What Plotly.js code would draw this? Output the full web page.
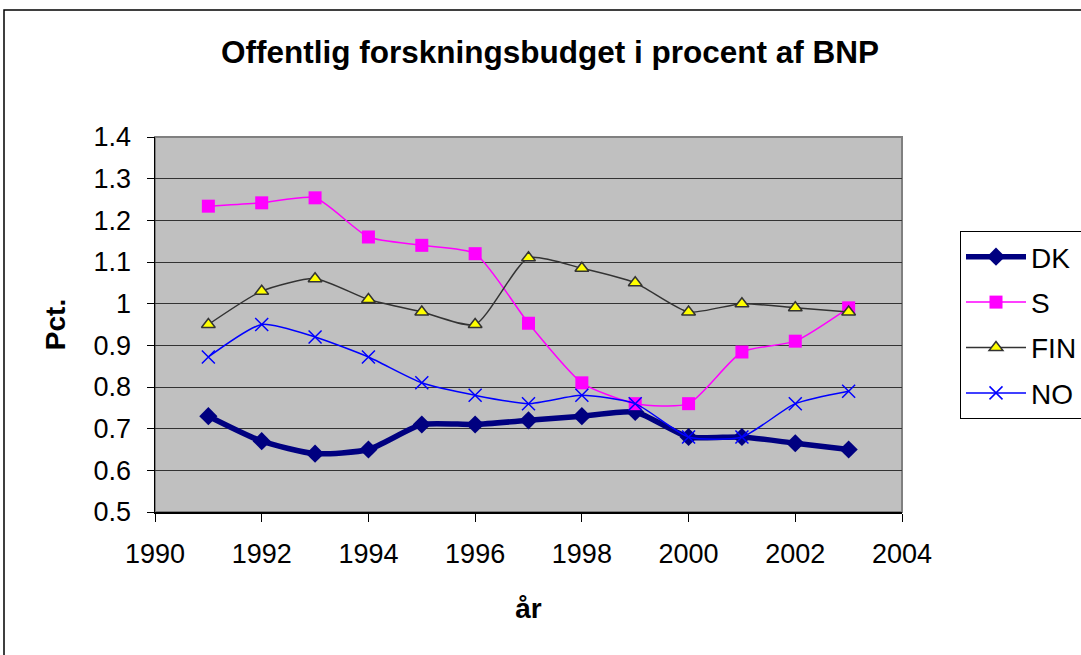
<!DOCTYPE html>
<html>
<head>
<meta charset="utf-8">
<script src="https://cdn.plot.ly/plotly-3.0.1.min.js"></script>
<style>
html,body{margin:0;padding:0;background:#fff;}
#chart{width:1081px;height:655px;}
</style>
</head>
<body>
<div id="chart"></div>
<script>
const years = [1991,1992,1993,1994,1995,1996,1997,1998,1999,2000,2001,2002,2003];
const DK  = [0.73,0.67,0.64,0.65,0.71,0.71,0.72,0.73,0.74,0.68,0.68,0.665,0.65];
const S   = [1.234,1.242,1.254,1.16,1.14,1.12,0.953,0.81,0.76,0.76,0.884,0.91,0.99];
const FIN = [0.95,1.03,1.06,1.01,0.98,0.95,1.11,1.085,1.05,0.98,1.0,0.99,0.98];
const NO  = [0.872,0.95,0.92,0.872,0.81,0.78,0.76,0.78,0.76,0.68,0.68,0.76,0.79];
const yTicks = [0.5,0.6,0.7,0.8,0.9,1.0,1.1,1.2,1.3,1.4];
const xTicks = [1990,1992,1994,1996,1998,2000,2002,2004];

const font = "Liberation Sans, Arial, sans-serif";
const traces = [
  {name:'DK', legendgroup:'a', x:years, y:DK, mode:'lines+markers',
   line:{color:'#000080', width:5.5, shape:'spline', smoothing:0.6},
   marker:{symbol:'diamond', size:14, color:'#000080'}},
  {name:'S', legendgroup:'b', x:years, y:S, mode:'lines+markers',
   line:{color:'#FF00FF', width:1.5, shape:'spline', smoothing:0.6},
   marker:{symbol:'square', size:13, color:'#FF00FF'}},
  {name:'FIN', legendgroup:'c', x:years, y:FIN, mode:'lines+markers',
   line:{color:'#333333', width:1.5, shape:'spline', smoothing:0.6},
   marker:{symbol:'triangle-up', size:12, color:'#FFFF00', line:{color:'#333333', width:1.5}}},
  {name:'NO', legendgroup:'d', x:years, y:NO, mode:'lines+markers',
   line:{color:'#0000FF', width:1.5, shape:'spline', smoothing:0.6},
   marker:{symbol:'x-thin-open', size:13, color:'#0000FF', line:{color:'#0000FF', width:1.5}}}
];

const layout = {
  width:1081, height:655,
  margin:{l:155, r:179, t:137, b:143, pad:0, autoexpand:false},
  paper_bgcolor:'#ffffff',
  plot_bgcolor:'#C0C0C0',
  font:{family:font, color:'#000', size:27},
  title:{text:'<b>Offentlig forskningsbudget i procent af BNP</b>', font:{size:31.5, family:font, color:'#000'},
         x:550/1081, xref:'container', xanchor:'center', y:1-52/655, yref:'container', yanchor:'middle'},
  xaxis:{range:[1990,2004], tickvals:xTicks, ticks:'outside', ticklen:8, tickcolor:'#000', tickwidth:1,
         ticklabelstandoff:9,
         showline:true, linecolor:'#000', linewidth:1.5, showgrid:false, zeroline:false,
         tickfont:{size:27, family:font}, fixedrange:true,
         title:{text:'<b>år</b>', font:{size:28, family:font}, standoff:30}},
  yaxis:{range:[0.5,1.4], tickvals:yTicks, ticktext:yTicks.map(v=>String(+v.toFixed(1))), ticks:'outside', ticklen:7, tickcolor:'#000',
         ticklabelstandoff:10,
         showline:true, linecolor:'#000', linewidth:1.5, showgrid:true, gridcolor:'#333333', gridwidth:1, zeroline:false,
         tickfont:{size:27, family:font}, fixedrange:true,
         title:{text:'<b>Pct.</b>', font:{size:28, family:font}, standoff:20}},
  legend:{x:(960-155)/747, xanchor:'left', y:(512-231)/375, yanchor:'top',
          bgcolor:'#fff', bordercolor:'#000', borderwidth:1,
          font:{size:28, family:font, color:'#000'}, itemwidth:60, tracegroupgap:6},
  shapes:[
    {type:'rect', xref:'paper', yref:'paper', x0:0, x1:1, y0:0, y1:1, line:{color:'#808080', width:2}, layer:'below'},
    {type:'rect', xref:'paper', yref:'paper', x0:(4-155)/747, x1:1.35, y0:-0.6, y1:(512-10)/375, line:{color:'#000', width:1.5}, layer:'below'}
  ],
  showlegend:true
};
Plotly.newPlot('chart', traces, layout, {displayModeBar:false, staticPlot:true});
</script>
</body>
</html>
